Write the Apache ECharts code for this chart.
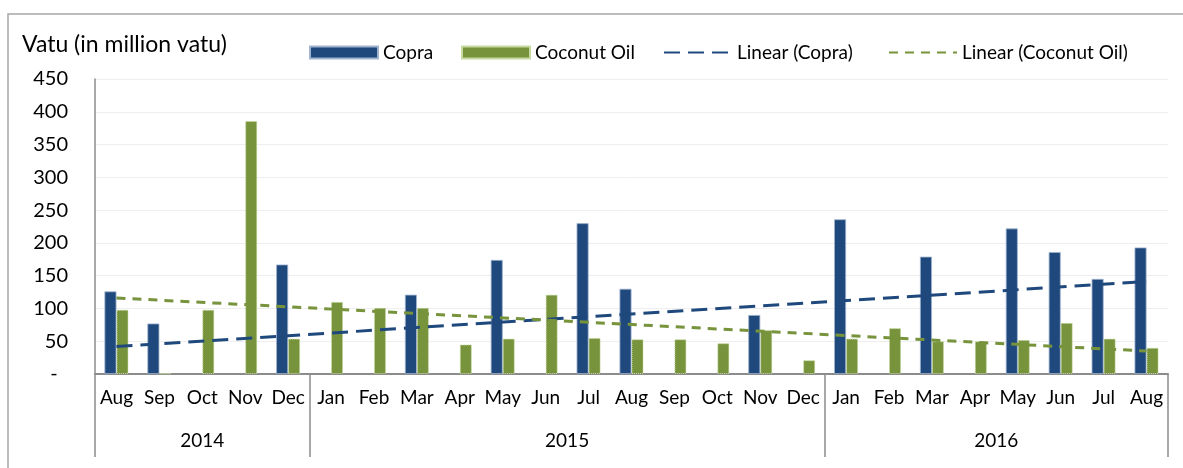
<!DOCTYPE html>
<html>
<head>
<meta charset="utf-8">
<script src="https://cdn.jsdelivr.net/npm/echarts@6/dist/echarts.min.js"></script>
<style>
html,body{margin:0;padding:0;background:#fff;}
#c{width:1183px;height:468px;}
</style>
</head>
<body>
<div id="c"></div>
<script>
const months = ['Aug','Sep','Oct','Nov','Dec','Jan','Feb','Mar','Apr','May','Jun','Jul','Aug','Sep','Oct','Nov','Dec','Jan','Feb','Mar','Apr','May','Jun','Jul','Aug'];
const years = ['2014','2015','2016'];
const yearMonthCounts = [5, 12, 8];
const copra = [126,77,null,null,167,null,null,121,null,174,null,230,130,null,null,90,null,236,null,179,null,222,186,145,193];
const coconutOil = [98,1,98,386,54,110,101,101,45,54,121,55,53,53,47,67,21,54,70,50,50,52,78,54,40];
const copraTrendEnds = [42, 141];
const coconutOilTrendEnds = [116, 35];
const yMin = 0, yMax = 450, yStep = 50;
const titleText = 'Vatu (in million vatu)';

const FONT = 'Lato';
const BLUE = '#1F497D';
const GREEN = '#77933C';

function trendSeries(ends) {
  const arr = months.map(() => null);
  arr[0] = ends[0];
  arr[arr.length - 1] = ends[1];
  return arr;
}

const yearBounds = [0];
yearMonthCounts.forEach(c => yearBounds.push(yearBounds[yearBounds.length - 1] + c));
const yearCenters = years.map((y, i) => (yearBounds[i] + yearBounds[i + 1]) / 2);

const chart = echarts.init(document.getElementById('c'), null, {renderer: 'canvas'});
const legendText = {fontFamily: FONT, fontSize: 19, color: '#000'};
const legendBase = {top: 38, itemWidth: 68, itemHeight: 12, itemGap: 0, textStyle: legendText, selectedMode: false};

chart.setOption({
  backgroundColor: '#fff',
  animation: false,
  graphic: [{
    type: 'rect', shape: {x: 8, y: 14, width: 1300, height: 600},
    style: {fill: 'none', stroke: '#a6a6a6', lineWidth: 1.5}, silent: true, z: -1
  }],
  title: {
    text: titleText, left: 17, top: 28,
    textStyle: {fontFamily: FONT, fontSize: 23, fontWeight: 'normal', color: '#000'}
  },
  legend: [
    Object.assign({}, legendBase, {left: 304, icon: 'rect', data: ['Copra']}),
    Object.assign({}, legendBase, {left: 456, icon: 'rect', data: ['Coconut Oil']}),
    Object.assign({}, legendBase, {left: 658, itemStyle: {opacity: 0}, data: ['Linear (Copra)']}),
    Object.assign({}, legendBase, {left: 883, itemStyle: {opacity: 0}, data: ['Linear (Coconut Oil)']})
  ],
  grid: {left: 95, right: 15, top: 79, bottom: 94, containLabel: false},
  xAxis: [{
    type: 'category', data: months, position: 'bottom',
    boundaryGap: true,
    axisLine: {show: true, lineStyle: {color: '#8c8c8c', width: 2}},
    axisTick: {show: false},
    axisLabel: {interval: 0, margin: 14, fontFamily: FONT, fontSize: 19, color: '#000'},
    splitLine: {show: false}
  }, {
    type: 'value', min: 0, max: months.length, position: 'bottom',
    axisLine: {show: false},
    axisTick: {show: true, customValues: yearBounds, length: 83, lineStyle: {color: '#8c8c8c', width: 1.5}},
    axisLabel: {
      show: true, customValues: yearCenters, margin: 57,
      fontFamily: FONT, fontSize: 19, color: '#000',
      formatter: v => { const i = yearCenters.indexOf(v); return i >= 0 ? years[i] : ''; }
    },
    splitLine: {show: false}
  }],
  yAxis: {
    type: 'value', min: yMin, max: yMax, interval: yStep,
    axisLine: {show: true, lineStyle: {color: '#8c8c8c', width: 1.5}},
    axisTick: {show: false},
    axisLabel: {
      margin: 27, fontFamily: FONT, fontSize: 20, color: '#000',
      formatter: v => v === 0 ? '-  ' : String(v)
    },
    splitLine: {show: true, lineStyle: {color: '#eeeeee', width: 1}}
  },
  series: [{
    name: 'Copra', type: 'bar', data: copra, barWidth: 12, barGap: '0%',
    itemStyle: {color: BLUE, borderColor: '#9fb3cf', borderWidth: 0.8}
  }, {
    name: 'Coconut Oil', type: 'bar', data: coconutOil, barWidth: 12, barGap: '0%',
    itemStyle: {color: GREEN, borderColor: '#c7d9a0', borderWidth: 1, borderType: 'dotted'}
  }, {
    name: 'Linear (Copra)', type: 'line', data: trendSeries(copraTrendEnds),
    connectNulls: true, symbol: 'none', z: 5,
    lineStyle: {color: BLUE, width: 3, type: [16, 8]},
    itemStyle: {color: BLUE}
  }, {
    name: 'Linear (Coconut Oil)', type: 'line', data: trendSeries(coconutOilTrendEnds),
    connectNulls: true, symbol: 'none', z: 5,
    lineStyle: {color: GREEN, width: 3, type: [9, 7]},
    itemStyle: {color: GREEN}
  }]
});
</script>
</body>
</html>
